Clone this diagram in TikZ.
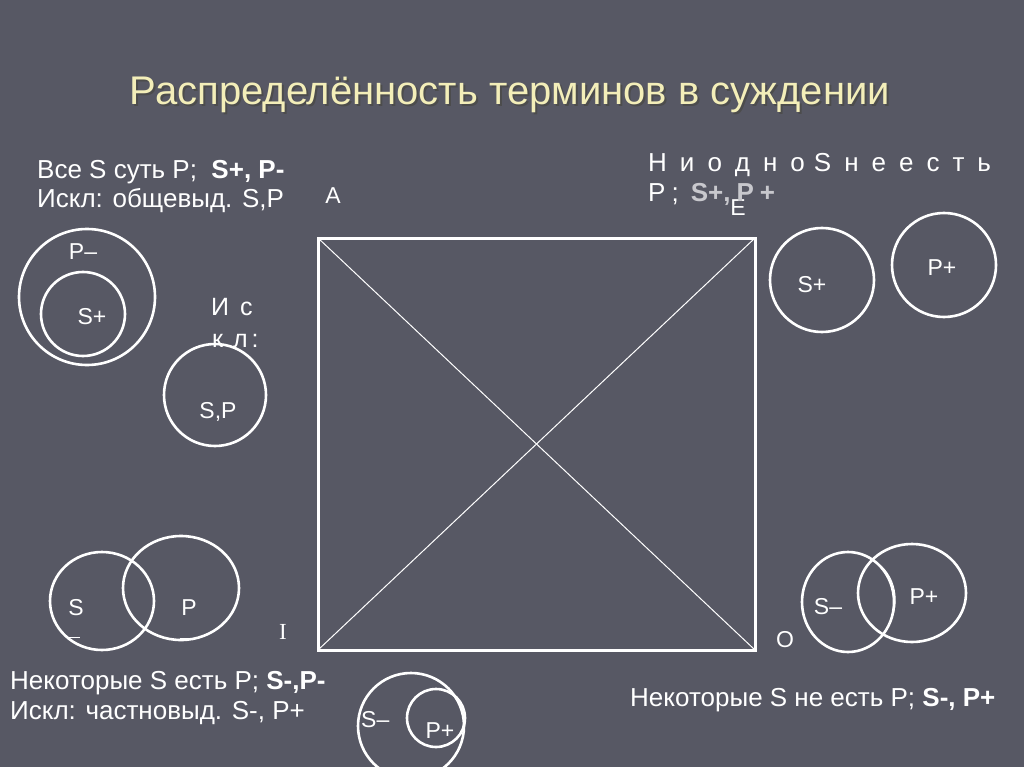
\documentclass[tikz,border=0pt]{standalone}
\usepackage{fontspec}
\usetikzlibrary{shapes.geometric}
\setmainfont{Liberation Sans}
\newfontfamily\seriffont{Liberation Serif}
\definecolor{bgc}{RGB}{87,88,100}
\definecolor{titlec}{RGB}{243,238,185}
\definecolor{greyb}{RGB}{200,200,205}
\begin{document}
\begin{tikzpicture}[x=1pt,y=-1pt,
  txt/.style={text=white,font=\fontsize{26}{30}\selectfont,inner sep=0pt,anchor=base west},
  lbl/.style={text=white,font=\fontsize{23}{26}\selectfont,inner sep=0pt},
  ring/.style={draw=white,line width=2.6pt,inner sep=0pt},
  edge/.style={draw=white,line width=1pt}]
\fill[bgc] (0,0) rectangle (1024,767);
\useasboundingbox (0,0) rectangle (1024,767);
% title
\node[text=black!70,font=\fontsize{40}{46}\selectfont,inner sep=0pt] at (512,97) {Распределённость терминов в суждении};
\node (title) [text=titlec,font=\fontsize{40}{46}\selectfont,inner sep=0pt] at (510,95) {Распределённость терминов в суждении};
% square
\coordinate (A) at (318,238);
\coordinate (E) at (755,238);
\coordinate (O) at (755,650);
\coordinate (I) at (318,650);
\draw[white,line width=3pt] (A) -- (E) -- (O) -- (I) -- cycle;
\draw[edge] (A) -- (O);
\draw[edge] (E) -- (I);
% corner letters
\node (la) [lbl] at (333,196) {A};
\node (le) [lbl] at (738,208) {E};
\node (li) [lbl,font=\seriffont\fontsize{23}{26}\selectfont] at (283,632) {I};
\node (lo) [lbl] at (785,640) {O};
% A texts
\node (ta1) [txt] at (37,179) {Все S суть P;\ \ \textbf{S+, P-}};
\node (ta2) [txt] at (37,208) {Искл: общевыд. S,P};
\node (cp) [ring,circle,minimum size=136pt] at (87,297) {};
\node (cs) [ring,circle,minimum size=84pt] at (83,314) {};
\node [lbl] at (83,252) {P–};
\node [lbl] at (92,317) {S+};
\node [lbl,font=\fontsize{25}{26}\selectfont,anchor=base west] at (211,315) {И\hspace{11pt}с};
\node [lbl,font=\fontsize{25}{26}\selectfont,anchor=base west] at (212,347) {к\hspace{10pt}л\hspace{4pt}:};
\node (csp) [ring,circle,minimum size=102pt] at (215,395) {};
\node [lbl] at (218,412) {S,P};
% E texts
\node (te1) [txt] at (648,172) {Н\hspace{13pt}и\hspace{13pt}о\hspace{13pt}д\hspace{13pt}н\hspace{13pt}о\hspace{9pt}S\hspace{13pt}н\hspace{13pt}е\hspace{13pt}е\hspace{13pt}с\hspace{13pt}т\hspace{13pt}ь};
\node (te2) [txt] at (648,202) {P\hspace{6pt};\hspace{12pt}\textcolor{greyb}{\textbf{S+,\hspace{6pt}P\hspace{6pt}+}}};
\node (es) [ring,circle,minimum size=104pt] at (822,280) {};
\node (ep) [ring,circle,minimum size=104pt] at (944,265) {};
\node [lbl] at (812,285) {S+};
\node [lbl] at (942,268) {P+};
% I texts
\node (is) [ring,ellipse,minimum width=104pt,minimum height=98pt] at (102,601) {};
\node (ip) [ring,ellipse,minimum width=116pt,minimum height=104pt] at (181,588) {};
\node [lbl] at (76,608) {S};
\node [lbl] at (189,608) {P};
\draw[white,line width=1pt] (69,637) -- (80,637);
\draw[white,line width=1pt] (180,638) -- (188,638);
\node (ti1) [txt] at (10,689) {Некоторые S есть P; \textbf{S-,P-}};
\node (ti2) [txt] at (10,719) {Искл: частновыд. S-, P+};
\node (ib) [ring,circle,minimum size=106pt] at (411,726) {};
\node (ibp) [ring,circle,minimum size=58pt] at (436,718) {};
\node [lbl,anchor=west] at (361,720) {S–};
\node [lbl] at (440,731) {P+};
% O texts
\node (os) [ring,ellipse,minimum width=92pt,minimum height=100pt] at (848,602) {};
\node (op) [ring,ellipse,minimum width=108pt,minimum height=98pt] at (912,593) {};
\draw[white,line width=1pt] (873,560) .. controls (898,575) and (899,605) .. (890,622);
\node [lbl] at (828,607) {S–};
\node [lbl] at (924,597) {P+};
\node (to) [txt] at (630,706) {Некоторые S не есть P; \textbf{S-, P+}};
\end{tikzpicture}
\end{document}
